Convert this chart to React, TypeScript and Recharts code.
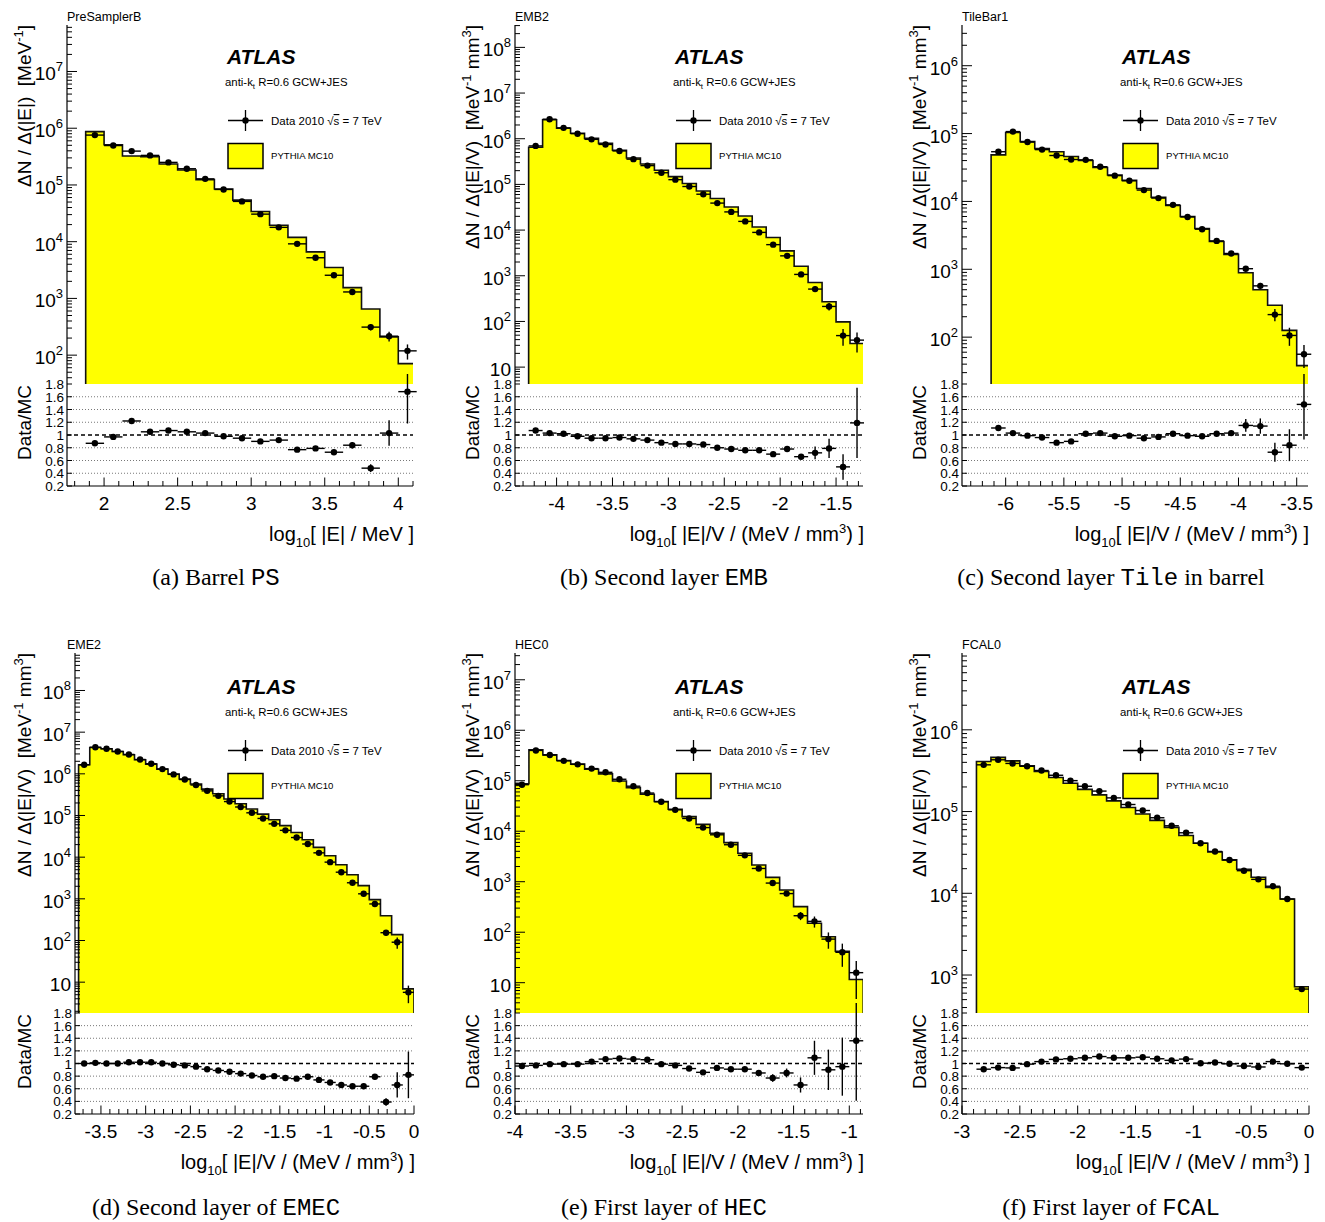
import React from "react";
import { ComposedChart, Area, Scatter, XAxis, YAxis, ErrorBar, ReferenceLine } from "recharts";

const SANS = "'Liberation Sans', Arial, Helvetica, sans-serif";
const SERIF = "'Liberation Serif', 'Times New Roman', serif";
const MONO = "'Liberation Mono', 'Courier New', monospace";
const YELLOW = "#ffff00";
const BIN = 0.125;
const AXW = 70;

// (a) PreSamplerB
const aStart = 1.875;
const aMc = [8.7e5, 5.1e5, 3.24e5, 3.16e5, 2.34e5, 1.84e5, 1.24e5, 8.5e4, 5.4e4, 3.4e4, 1.95e4, 1.19e4, 6.6e3, 3.5e3, 1550, 650, 210, 71];
const aData = [7.57e5, 4.95e5, 3.95e5, 3.32e5, 2.5e5, 1.93e5, 1.28e5, 8.33e4, 5.13e4, 3.06e4, 1.79e4, 9.16e3, 5.21e3, 2560, 1300, 312, 216, 119];
const aRatio = [0.87, 0.97, 1.22, 1.05, 1.07, 1.05, 1.03, 0.98, 0.95, 0.9, 0.92, 0.77, 0.79, 0.73, 0.84, 0.48, 1.03, 1.68];
const aErr = [0.01, 0.01, 0.01, 0.01, 0.01, 0.01, 0.01, 0.01, 0.01, 0.01, 0.01, 0.01, 0.02, 0.03, 0.05, 0.06, 0.2, 0.5];

// (b) EMB2
const bStart = -4.25;
const bMc = [6.5e5, 2.6e6, 1.7e6, 1.32e6, 1.02e6, 7.9e5, 5.6e5, 3.8e5, 2.8e5, 2.04e5, 1.48e5, 1.05e5, 7.2e4, 4.9e4, 3.2e4, 2.04e4, 1.17e4, 6.9e3, 3500, 1620, 710, 270, 98, 33];
const bData = [6.96e5, 2.68e6, 1.73e6, 1.29e6, 9.7e5, 7.5e5, 5.4e5, 3.57e5, 2.58e5, 1.8e5, 1.27e5, 9.0e4, 6.1e4, 3.9e4, 2.5e4, 1.55e4, 8.9e3, 4.8e3, 2730, 1070, 511, 213, 49, 39];
const bRatio = [1.07, 1.03, 1.02, 0.98, 0.95, 0.95, 0.96, 0.94, 0.92, 0.88, 0.86, 0.86, 0.85, 0.8, 0.78, 0.76, 0.76, 0.7, 0.78, 0.66, 0.72, 0.79, 0.5, 1.19];
const bErr = [0.01, 0.01, 0.01, 0.01, 0.01, 0.01, 0.01, 0.01, 0.01, 0.01, 0.01, 0.01, 0.01, 0.01, 0.01, 0.01, 0.015, 0.02, 0.03, 0.04, 0.1, 0.15, 0.2, 0.55];

// (c) TileBar1
const cStart = -6.125;
const cMc = [4.85e4, 1.035e5, 7.6e4, 6.0e4, 5.4e4, 4.6e4, 4.0e4, 3.16e4, 2.45e4, 2.04e4, 1.55e4, 1.15e4, 8.7e3, 6.0e3, 4.0e3, 2570, 1660, 890, 500, 295, 126, 38];
const cData = [5.4e4, 1.07e5, 7.5e4, 5.8e4, 4.75e4, 4.15e4, 4.1e4, 3.25e4, 2.4e4, 2.02e4, 1.47e4, 1.12e4, 8.9e3, 5.9e3, 3.9e3, 2620, 1710, 1020, 570, 215, 106, 56];
const cRatio = [1.11, 1.03, 0.99, 0.96, 0.88, 0.9, 1.02, 1.03, 0.98, 0.99, 0.95, 0.97, 1.02, 0.99, 0.98, 1.02, 1.03, 1.15, 1.14, 0.73, 0.84, 1.48];
const cErr = [0.01, 0.01, 0.01, 0.01, 0.01, 0.01, 0.01, 0.01, 0.01, 0.01, 0.01, 0.01, 0.01, 0.01, 0.015, 0.02, 0.04, 0.1, 0.12, 0.15, 0.25, 0.55];

// (d) EME2
const dStart = -3.75;
const dMc = [1.65e6, 4.3e6, 4.0e6, 3.44e6, 2.86e6, 2.17e6, 1.71e6, 1.3e6, 9.9e5, 7.5e5, 5.7e5, 4.3e5, 3.33e5, 2.48e5, 1.91e5, 1.43e5, 1.08e5, 7.9e4, 5.7e4, 3.9e4, 2.62e4, 1.72e4, 1.08e4, 6.6e3, 3800, 2070, 955, 394, 138, 6.9];
const dData = [1.65e6, 4.34e6, 4.0e6, 3.44e6, 2.92e6, 2.21e6, 1.74e6, 1.3e6, 9.7e5, 7.3e5, 5.4e5, 3.9e5, 2.96e5, 2.16e5, 1.6e5, 1.16e5, 8.5e4, 6.3e4, 4.4e4, 2.96e4, 2.07e4, 1.27e4, 7.6e3, 4360, 2430, 1320, 754, 154, 91, 5.7];
const dRatio = [1.0, 1.01, 1.0, 1.0, 1.02, 1.02, 1.02, 1.0, 0.98, 0.97, 0.95, 0.91, 0.89, 0.87, 0.84, 0.81, 0.79, 0.8, 0.77, 0.76, 0.79, 0.74, 0.7, 0.66, 0.64, 0.64, 0.79, 0.39, 0.66, 0.82];
const dErr = [0.01, 0.01, 0.01, 0.01, 0.01, 0.01, 0.01, 0.01, 0.01, 0.01, 0.01, 0.01, 0.01, 0.01, 0.01, 0.01, 0.01, 0.01, 0.01, 0.01, 0.01, 0.01, 0.01, 0.01, 0.015, 0.015, 0.04, 0.06, 0.2, 0.37];

// (e) HEC0
const eStart = -4.0;
const eMc = [8.7e4, 4.1e5, 3.26e5, 2.51e5, 2.13e5, 1.69e5, 1.37e5, 9.9e4, 7.3e4, 5.4e4, 3.87e4, 2.73e4, 1.95e4, 1.37e4, 9.1e3, 5960, 3660, 2150, 1220, 685, 321, 150, 81, 42, 11.6];
const eData = [8.35e4, 3.98e5, 3.23e5, 2.48e5, 2.11e5, 1.74e5, 1.47e5, 1.07e5, 7.8e4, 5.7e4, 3.83e4, 2.65e4, 1.79e4, 1.18e4, 8.5e3, 5400, 3330, 1830, 940, 582, 212, 164, 73, 40, 15.8];
const eRatio = [0.96, 0.97, 0.99, 0.99, 0.99, 1.03, 1.07, 1.08, 1.07, 1.06, 0.99, 0.97, 0.92, 0.86, 0.93, 0.91, 0.91, 0.85, 0.77, 0.85, 0.66, 1.09, 0.9, 0.95, 1.36];
const eErr = [0.01, 0.01, 0.01, 0.01, 0.01, 0.01, 0.01, 0.01, 0.01, 0.01, 0.01, 0.01, 0.01, 0.01, 0.01, 0.02, 0.02, 0.04, 0.06, 0.07, 0.12, 0.27, 0.32, 0.46, 0.95];

// (f) FCAL0
const fStart = -2.875;
const fMc = [4.1e5, 4.6e5, 4.17e5, 3.62e5, 3.09e5, 2.61e5, 2.22e5, 1.87e5, 1.6e5, 1.35e5, 1.12e5, 9.35e4, 7.8e4, 6.4e4, 5.1e4, 4.1e4, 3.2e4, 2.56e4, 1.97e4, 1.57e4, 1.18e4, 8.5e3, 720];
const fData = [3.73e5, 4.3e5, 3.88e5, 3.58e5, 3.18e5, 2.78e5, 2.39e5, 2.04e5, 1.78e5, 1.47e5, 1.22e5, 1.03e5, 8.4e4, 6.7e4, 5.5e4, 4.1e4, 3.25e4, 2.55e4, 1.89e4, 1.48e4, 1.22e4, 8.5e3, 673];
const fRatio = [0.91, 0.935, 0.93, 0.99, 1.03, 1.065, 1.075, 1.09, 1.11, 1.09, 1.09, 1.1, 1.075, 1.05, 1.07, 1.005, 1.015, 0.995, 0.96, 0.945, 1.03, 0.995, 0.935];
const fErr = [0.01, 0.01, 0.01, 0.01, 0.01, 0.01, 0.01, 0.01, 0.01, 0.01, 0.01, 0.01, 0.01, 0.01, 0.01, 0.01, 0.01, 0.01, 0.01, 0.01, 0.01, 0.01, 0.02];

const ratioTicks = [0.2, 0.4, 0.6, 0.8, 1, 1.2, 1.4, 1.6, 1.8];
const ratioGrid = [0.4, 0.6, 0.8, 1.2, 1.4, 1.6];

const COLS = [0, 448, 895];
const ROWTXT = [0, 630];

const panels: any[] = [
  { title: "PreSamplerB", start: aStart, mc: aMc, data: aData, ratio: aRatio, err: aErr, xDom: [1.748, 4.1], yDom: [31, 6.6e7],
    L: 67, R: 413, T: 25, B: 384, RB: 486, col: 0, row: 0, perVol: false, caption: [["(a) Barrel ", false], ["PS", true]] },
  { title: "EMB2", start: bStart, mc: bMc, data: bData, ratio: bRatio, err: bErr, xDom: [-4.372, -1.259], yDom: [4.27, 3.09e8],
    L: 515, R: 863, T: 25, B: 384, RB: 486, col: 1, row: 0, perVol: true, caption: [["(b) Second layer ", false], ["EMB", true]] },
  { title: "TileBar1", start: cStart, mc: cMc, data: cData, ratio: cRatio, err: cErr, xDom: [-6.375, -3.403], yDom: [20.4, 3.98e6],
    L: 962, R: 1308, T: 25, B: 384, RB: 486, col: 2, row: 0, perVol: true, caption: [["(c) Second layer ", false], ["Tile", true], [" in barrel", false]] },
  { title: "EME2", start: dStart, mc: dMc, data: dData, ratio: dRatio, err: dErr, xDom: [-3.79, 0], yDom: [1.82, 7.94e8],
    L: 75, R: 414, T: 653, B: 1013, RB: 1114, col: 0, row: 1, perVol: true, caption: [["(d) Second layer of ", false], ["EMEC", true]] },
  { title: "HEC0", start: eStart, mc: eMc, data: eData, ratio: eRatio, err: eErr, xDom: [-4.0, -0.877], yDom: [2.51, 3.39e7],
    L: 515, R: 863, T: 653, B: 1013, RB: 1114, col: 1, row: 1, perVol: true, caption: [["(e) First layer of ", false], ["HEC", true]] },
  { title: "FCAL0", start: fStart, mc: fMc, data: fData, ratio: fRatio, err: fErr, xDom: [-3.0, 0], yDom: [343, 8.71e6],
    L: 962, R: 1309, T: 653, B: 1013, RB: 1114, col: 2, row: 1, perVol: true, caption: [["(f) First layer of ", false], ["FCAL", true]] },
];

function linTicks(lo: number, hi: number) {
  const out: number[] = [];
  for (let k = Math.ceil(lo * 10 - 1e-9); k <= Math.floor(hi * 10 + 1e-9); k++) out.push(k / 10);
  return out;
}

function logTicks(lo: number, hi: number) {
  const out: number[] = [];
  for (let e = Math.floor(Math.log10(lo)); e <= Math.ceil(Math.log10(hi)); e++) {
    for (let m = 1; m <= 9; m++) {
      const v = m * Math.pow(10, e);
      if (v >= lo && v <= hi) out.push(v);
    }
  }
  return out;
}

const fmt = (v: number) => String(Math.round(v * 10) / 10);
const AXL = { stroke: "#000", strokeWidth: 1.2 };

const xTick = (side: string, maj: number, min: number, label: boolean) => (t: any) => {
  const v = t.payload.value;
  const major = Math.abs(v * 2 - Math.round(v * 2)) < 1e-6;
  const d = side === "bottom" ? -1 : 1;
  return (
    <g>
      <line x1={t.x} x2={t.x} y1={t.y} y2={t.y + d * (major ? maj : min)} stroke="#000" strokeWidth={1} />
      {label && major && (
        <text x={t.x} y={t.y + 24} textAnchor="middle" fontSize={19} fontFamily={SANS} fill="#000">
          {fmt(v)}
        </text>
      )}
    </g>
  );
};

const logTick = (side: string) => (t: any) => {
  const v = t.payload.value;
  const l = Math.log10(v);
  const major = Math.abs(l - Math.round(l)) < 1e-9;
  const d = side === "left" ? 1 : -1;
  const ex = Math.round(l);
  return (
    <g>
      <line x1={t.x} x2={t.x + d * (major ? 10 : 5)} y1={t.y} y2={t.y} stroke="#000" strokeWidth={1} />
      {side === "left" && major && (
        <text x={t.x - 4} y={t.y + 9} textAnchor="end" fontSize={19} fontFamily={SANS} fill="#000">
          10
          {ex !== 1 && (
            <tspan dy={-9} fontSize={13}>
              {ex}
            </tspan>
          )}
        </text>
      )}
    </g>
  );
};

const ratioTick = (side: string) => (t: any) => {
  const v = t.payload.value;
  const d = side === "left" ? 1 : -1;
  return (
    <g>
      <line x1={t.x} x2={t.x + d * 5} y1={t.y} y2={t.y} stroke="#000" strokeWidth={1} />
      {side === "left" && (
        <text x={t.x - 3} y={t.y + 5} textAnchor="end" fontSize={13.5} fontFamily={SANS} fill="#000">
          {fmt(v)}
        </text>
      )}
    </g>
  );
};

const dot = (s: any) => <circle cx={s.cx} cy={s.cy} r={3.2} fill="#000" />;

function MainChart({ p }: { p: any }) {
  const n = p.mc.length;
  const base = p.yDom[0];
  const hist: any[] = [{ x: p.start, y: base }];
  p.mc.forEach((v: number, i: number) => hist.push({ x: p.start + BIN * i, y: v }));
  hist.push({ x: p.start + BIN * n, y: base });
  const pts = p.data.map((v: number, i: number) => ({
    x: p.start + BIN * (i + 0.5),
    y: v,
    ex: BIN / 2,
    ey: (v * p.err[i]) / p.ratio[i],
  }));
  const xt = linTicks(p.xDom[0], p.xDom[1]);
  const yt = logTicks(p.yDom[0], p.yDom[1]);
  const w = p.R - p.L + AXW + 5;
  const h = p.B - p.T + 10;
  return (
    <div style={{ position: "absolute", left: p.L - AXW, top: p.T - 10, width: w, height: h }}>
      <ComposedChart width={w} height={h} margin={{ top: 10, right: 5, bottom: 0, left: 0 }}>
        <Area
          data={hist}
          dataKey="y"
          type="stepAfter"
          baseValue={base}
          fill={YELLOW}
          fillOpacity={1}
          stroke="#111"
          strokeWidth={1.6}
          dot={false}
          activeDot={false}
          isAnimationActive={false}
        />
        <Scatter data={pts} dataKey="y" fill="#000" shape={dot} isAnimationActive={false}>
          <ErrorBar dataKey="ex" direction="x" width={0} stroke="#000" strokeWidth={1.4} />
          <ErrorBar dataKey="ey" direction="y" width={0} stroke="#000" strokeWidth={1.4} />
        </Scatter>
        <XAxis dataKey="x" type="number" domain={p.xDom} allowDataOverflow ticks={xt} interval={0} height={0}
          tickSize={0} tickMargin={0} tickLine={false} axisLine={AXL} tick={xTick("bottom", 13, 6.5, false)} />
        <XAxis xAxisId="top" orientation="top" type="number" domain={p.xDom} allowDataOverflow ticks={xt} interval={0} height={0}
          tickSize={0} tickMargin={0} tickLine={false} axisLine={AXL} tick={xTick("top", 13, 6.5, false)} />
        <YAxis dataKey="y" type="number" scale="log" domain={p.yDom} allowDataOverflow ticks={yt} interval={0} width={AXW}
          tickSize={0} tickMargin={0} tickLine={false} axisLine={AXL} tick={logTick("left")} />
        <YAxis yAxisId="right" orientation="right" type="number" scale="log" domain={p.yDom} allowDataOverflow ticks={yt}
          interval={0} width={0} tickSize={0} tickMargin={0} tickLine={false} axisLine={AXL} tick={logTick("right")} />
      </ComposedChart>
    </div>
  );
}

function RatioChart({ p }: { p: any }) {
  const pts = p.ratio.map((v: number, i: number) => ({
    x: p.start + BIN * (i + 0.5),
    y: v,
    ex: BIN / 2,
    ey: p.err[i],
  }));
  const xt = linTicks(p.xDom[0], p.xDom[1]);
  const w = p.R - p.L + AXW + 5;
  const h = p.RB - p.B + 10 + 34;
  return (
    <div style={{ position: "absolute", left: p.L - AXW, top: p.B - 10, width: w, height: h }}>
      <ComposedChart width={w} height={h} margin={{ top: 10, right: 5, bottom: 0, left: 0 }}>
        {ratioGrid.map((g) => (
          <ReferenceLine key={g} y={g} stroke="#555" strokeWidth={0.8} strokeDasharray="1 2" />
        ))}
        <ReferenceLine y={1} stroke="#000" strokeWidth={1.3} strokeDasharray="4 3" />
        <Scatter data={pts} dataKey="y" fill="#000" shape={dot} isAnimationActive={false}>
          <ErrorBar dataKey="ex" direction="x" width={0} stroke="#000" strokeWidth={1.4} />
          <ErrorBar dataKey="ey" direction="y" width={0} stroke="#000" strokeWidth={1.4} />
        </Scatter>
        <XAxis dataKey="x" type="number" domain={p.xDom} allowDataOverflow ticks={xt} interval={0} height={34}
          tickSize={0} tickMargin={0} tickLine={false} axisLine={AXL} tick={xTick("bottom", 8.5, 5, true)} />
        <XAxis xAxisId="top" orientation="top" type="number" domain={p.xDom} allowDataOverflow ticks={xt} interval={0} height={0}
          tickSize={0} tickMargin={0} tickLine={false} axisLine={AXL} tick={xTick("top", 8.5, 5, false)} />
        <YAxis dataKey="y" type="number" domain={[0.2, 1.8]} allowDataOverflow ticks={ratioTicks} interval={0} width={AXW}
          tickSize={0} tickMargin={0} tickLine={false} axisLine={AXL} tick={ratioTick("left")} />
        <YAxis yAxisId="right" orientation="right" type="number" domain={[0.2, 1.8]} allowDataOverflow ticks={ratioTicks}
          interval={0} width={0} tickSize={0} tickMargin={0} tickLine={false} axisLine={AXL} tick={ratioTick("right")} />
      </ComposedChart>
    </div>
  );
}

function PanelText({ p }: { p: any }) {
  const cx = COLS[p.col];
  const ry = ROWTXT[p.row];
  const pre = { whiteSpace: "pre" as const };
  return (
    <g fontFamily={SANS} fill="#000">
      <text x={cx + 67} y={p.T - 4} fontSize={12.5}>{p.title}</text>
      <text x={cx + 227} y={ry + 63.5} fontSize={21} fontWeight="bold" fontStyle="italic">ATLAS</text>
      <text x={cx + 225} y={ry + 86} fontSize={11.4} style={pre}>
        anti-k<tspan dy={3} fontSize={8}>t</tspan>
        <tspan dy={-3}> R=0.6 GCW+JES</tspan>
      </text>
      <line x1={cx + 228} x2={cx + 263} y1={ry + 120.5} y2={ry + 120.5} stroke="#000" strokeWidth={1.3} />
      <line x1={cx + 245.5} x2={cx + 245.5} y1={ry + 110} y2={ry + 131} stroke="#000" strokeWidth={1.3} />
      <circle cx={cx + 245.5} cy={ry + 120.5} r={3.2} fill="#000" />
      <text x={cx + 271} y={ry + 125} fontSize={11.5} style={pre}>
        Data 2010 √<tspan textDecoration="overline">s</tspan> = 7 TeV
      </text>
      <rect x={cx + 228} y={ry + 143.5} width={35} height={25} fill={YELLOW} stroke="#000" strokeWidth={1.5} />
      <text x={cx + 271} y={ry + 159} fontSize={9.6}>PYTHIA MC10</text>

      <text transform={`translate(${cx + 31},${p.T}) rotate(-90)`} textAnchor="end" fontSize={19} style={pre}>
        {p.perVol ? "ΔN / Δ(|E|/V)  [MeV" : "ΔN / Δ(|E|)  [MeV"}
        <tspan dy={-8} fontSize={13}>-1</tspan>
        {p.perVol ? (
          <>
            <tspan dy={8}> mm</tspan>
            <tspan dy={-8} fontSize={13}>3</tspan>
            <tspan dy={8}>]</tspan>
          </>
        ) : (
          <tspan dy={8}>]</tspan>
        )}
      </text>
      <text transform={`translate(${cx + 31},${p.B + 1}) rotate(-90)`} textAnchor="end" fontSize={19}>Data/MC</text>

      <text x={p.R + 1} y={p.RB + 55} textAnchor="end" fontSize={20} style={pre}>
        log<tspan fontSize={13} dy={6}>10</tspan>
        {p.perVol ? (
          <>
            <tspan dy={-6}>[ |E|/V / (MeV / mm</tspan>
            <tspan dy={-8} fontSize={13}>3</tspan>
            <tspan dy={8}>) ]</tspan>
          </>
        ) : (
          <tspan dy={-6}>[ |E| / MeV ]</tspan>
        )}
      </text>

      <text x={cx + 216} y={ry + 585} textAnchor="middle" fontSize={24} fontFamily={SERIF} style={pre}>
        {p.caption.map((c: any, i: number) => (
          <tspan key={i} fontFamily={c[1] ? MONO : SERIF}>{c[0]}</tspan>
        ))}
      </text>
    </g>
  );
}

export default function App() {
  return (
    <div style={{ position: "absolute", left: 0, top: 0, width: 1325, height: 1222, background: "#fff", overflow: "hidden" }}>
      {panels.map((p, i) => (
        <React.Fragment key={i}>
          <MainChart p={p} />
          <RatioChart p={p} />
        </React.Fragment>
      ))}
      <svg width={1325} height={1222} style={{ position: "absolute", left: 0, top: 0, pointerEvents: "none" }}>
        {panels.map((p, i) => (
          <PanelText key={i} p={p} />
        ))}
      </svg>
    </div>
  );
}
